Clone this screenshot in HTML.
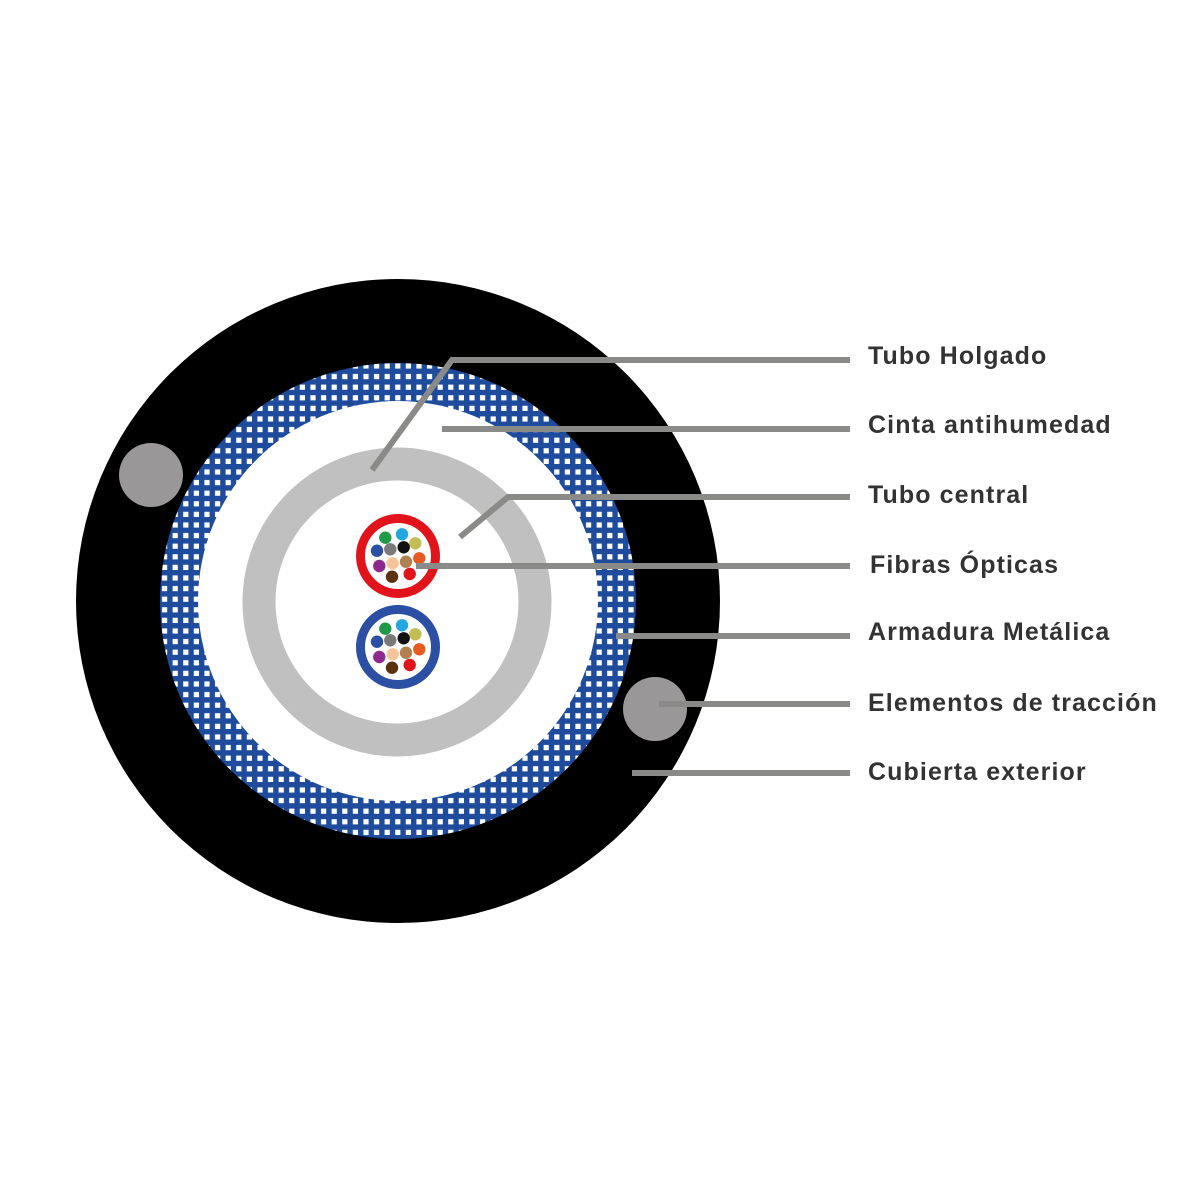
<!DOCTYPE html>
<html><head><meta charset="utf-8"><style>
html,body{margin:0;padding:0;background:#fff;width:1200px;height:1200px;overflow:hidden}
svg{display:block}
text{font-family:"Liberation Sans",sans-serif;font-weight:bold;font-size:25px;letter-spacing:1.1px;fill:#333}
</style></head><body>
<svg width="1200" height="1200" viewBox="0 0 1200 1200">
<defs>
<pattern id="mesh" x="0" y="0" width="10.6" height="10.6" patternUnits="userSpaceOnUse">
<rect width="10.6" height="10.6" fill="#1e4b9b"/>
<rect x="3" y="3" width="5.2" height="5.2" fill="#fff"/>
</pattern>
<g id="f">
<circle cx="-12.7" cy="-18.3" r="6.2" fill="#1e9a48"/>
<circle cx="4" cy="-21.7" r="6.2" fill="#22a7e0"/>
<circle cx="17.3" cy="-12.7" r="6.2" fill="#c2bd55"/>
<circle cx="-21" cy="-5.3" r="6.2" fill="#2b4fa3"/>
<circle cx="-7.7" cy="-6.7" r="6.2" fill="#7a7a7a"/>
<circle cx="5.7" cy="-8.7" r="6.2" fill="#111"/>
<circle cx="21.3" cy="2.3" r="6.2" fill="#e85a24"/>
<circle cx="-18.7" cy="10" r="6.2" fill="#8e2a8f"/>
<circle cx="-5.3" cy="7.3" r="6.2" fill="#f5c59a"/>
<circle cx="8" cy="5.7" r="6.2" fill="#b08050"/>
<circle cx="-6" cy="20.7" r="6.2" fill="#5a3210"/>
<circle cx="11.7" cy="18" r="6.2" fill="#e2141b"/>
</g>
</defs>
<circle cx="398" cy="601" r="322" fill="#000"/>
<circle cx="398" cy="601" r="238" fill="url(#mesh)"/>
<circle cx="398" cy="601" r="200" fill="#fff"/>
<circle cx="151" cy="475" r="32" fill="#999797"/>
<circle cx="655" cy="709" r="32" fill="#999797"/>
<circle cx="397" cy="602" r="138" fill="none" stroke="#c0c0c0" stroke-width="33"/>
<circle cx="398" cy="556" r="37.5" fill="#fff" stroke="#e2141b" stroke-width="9"/>
<circle cx="398" cy="647" r="37.5" fill="#fff" stroke="#2b4fa3" stroke-width="9"/>
<use href="#f" transform="translate(398,556)"/>
<use href="#f" transform="translate(398,647)"/>
<g stroke="#8a8a88" stroke-width="6" fill="none">
<polyline points="372,470 452,360 850,360"/>
<line x1="442" y1="429" x2="850" y2="429"/>
<polyline points="460,537 508,497 850,497"/>
<line x1="416" y1="566" x2="850" y2="566"/>
<line x1="616" y1="636" x2="850" y2="636"/>
<line x1="659" y1="704" x2="850" y2="704"/>
<line x1="632" y1="773" x2="850" y2="773"/>
</g>
<text x="868" y="364">Tubo Holgado</text>
<text x="868" y="433">Cinta antihumedad</text>
<text x="868" y="503">Tubo central</text>
<text x="870" y="573">Fibras Ópticas</text>
<text x="868" y="640">Armadura Metálica</text>
<text x="868" y="711">Elementos de tracción</text>
<text x="868" y="780">Cubierta exterior</text>
</svg>
</body></html>
